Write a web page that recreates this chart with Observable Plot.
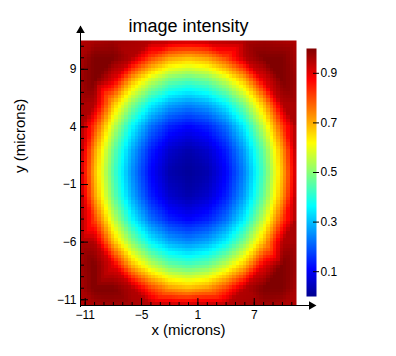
<!DOCTYPE html>
<html><head><meta charset="utf-8">
<script src="https://cdn.jsdelivr.net/npm/d3@7"></script>
<script src="https://cdn.jsdelivr.net/npm/@observablehq/plot@0.6"></script>
<style>
body{margin:0;background:#fff;}
#chart{position:relative;width:396px;height:356px;}
#chart svg{position:absolute;left:0;top:0;}
</style></head><body><div id="chart"></div>
<script>
const gridX = [-11.5, -10, -8, -6, -4, -2, 0, 2, 4, 6, 8, 10, 11.5];
const gridY = [11.5, 10, 8, 6, 4, 2, 0, -2, -4, -6, -8, -10, -11.5];
const intensity = [
  [0.95,0.96,0.97,0.96,0.95,0.94,0.93,0.94,0.95,0.96,0.97,0.96,0.95],
  [0.96,1.00,1.00,0.95,0.81,0.72,0.69,0.72,0.81,0.95,1.00,1.00,0.96],
  [0.97,1.00,0.90,0.69,0.56,0.47,0.44,0.47,0.56,0.69,0.90,1.00,0.97],
  [0.96,0.95,0.69,0.50,0.36,0.28,0.25,0.28,0.36,0.50,0.69,0.95,0.96],
  [0.96,0.81,0.56,0.36,0.22,0.14,0.11,0.14,0.22,0.36,0.56,0.81,0.96],
  [0.95,0.72,0.47,0.28,0.14,0.06,0.03,0.06,0.14,0.28,0.47,0.72,0.95],
  [0.93,0.69,0.44,0.25,0.11,0.03,0.01,0.03,0.11,0.25,0.44,0.69,0.93],
  [0.95,0.72,0.47,0.28,0.14,0.06,0.03,0.06,0.14,0.28,0.47,0.72,0.95],
  [0.96,0.81,0.56,0.36,0.22,0.14,0.11,0.14,0.22,0.36,0.56,0.81,0.96],
  [0.96,0.95,0.69,0.50,0.36,0.28,0.25,0.28,0.36,0.50,0.69,0.95,0.96],
  [0.97,1.00,0.90,0.69,0.56,0.47,0.44,0.47,0.56,0.69,0.90,1.00,0.97],
  [0.96,1.00,1.00,0.95,0.81,0.72,0.69,0.72,0.81,0.95,1.00,1.00,0.96],
  [0.95,0.96,0.97,0.96,0.95,0.94,0.93,0.94,0.95,0.96,0.97,0.96,0.95]
];
const xTicks = [-11, -5, 1, 7];
const yTicks = [-11, -6, -1, 4, 9];
const xMinor = [-11,-10,-9,-8,-7,-6,-5,-4,-3,-2,-1,0,1,2,3,4,5,6,7,8,9,10,11];
const yMinor = [-11,-10,-9,-8,-7,-6,-5,-4,-3,-2,-1,0,1,2,3,4,5,6,7,8,9,10,11];
const colorTicks = [0.1, 0.3, 0.5, 0.7, 0.9];
const jetStops = [0, 0.111, 0.365, 0.619, 0.873, 1];
const jetColors = ["#00008f", "#0000ff", "#00ffff", "#ffff00", "#ff0000", "#800000"];
const titleText = ["image intensity"];
const xLabel = ["x (microns)"];
const yLabel = ["y (microns)"];

const points = intensity.flatMap((row, i) => row.map((v, j) => ({x: gridX[j], y: gridY[i], v})));
const color = {type: "linear", domain: jetStops, range: jetColors, interpolate: "rgb", clamp: true};
const font = "'Liberation Sans', Arial, sans-serif";

const main = Plot.plot({
  width: 396, height: 356,
  marginLeft: 80, marginRight: 100, marginTop: 40, marginBottom: 51,
  style: {fontFamily: font, fontSize: "12px", background: "white", color: "black"},
  x: {domain: [-11.5, 11.5], label: null},
  y: {domain: [-11.5, 11.5], label: null},
  color,
  marks: [
    Plot.raster(points, {x: "x", y: "y", fill: "v", interpolate: "barycentric",
      x1: -11.5, x2: 11.5, y1: -11.5, y2: 11.5, pixelSize: 3.4, imageRendering: "pixelated"}),
    Plot.tickX(xMinor, {x: d => d, insetTop: 262, stroke: "black"}),
    Plot.tickX(xTicks, {x: d => d, insetTop: 258, stroke: "black"}),
    Plot.tickY(yMinor, {y: d => d, insetRight: 212, stroke: "black"}),
    Plot.tickY(yTicks, {y: d => d, insetRight: 208, stroke: "black"}),
    Plot.frame({anchor: "left", insetTop: -14, insetBottom: -1, stroke: "black"}),
    Plot.frame({anchor: "bottom", insetRight: -16, stroke: "black"}),
    Plot.dot([0], {frameAnchor: "top-left", dy: -10, symbol: "triangle", r: 3.2, fill: "black", stroke: null}),
    Plot.dot([0], {frameAnchor: "bottom-right", dx: 15, dy: 0, symbol: "triangle", rotate: 90, r: 3.2, fill: "black", stroke: null}),
    Plot.axisX({ticks: xTicks, tickSize: 0, tickPadding: 5, label: null}),
    Plot.axisY({ticks: yTicks, tickSize: 0, tickPadding: 4, label: null}),
    Plot.text(titleText, {text: d => d, frameAnchor: "top", dy: -21, fontSize: 18}),
    Plot.text(xLabel, {text: d => d, frameAnchor: "bottom", dy: 29, fontSize: 15}),
    Plot.text(yLabel, {text: d => d, frameAnchor: "left", dx: -60, rotate: -90, fontSize: 15})
  ]
});

const bar = Plot.plot({
  width: 396, height: 356,
  marginLeft: 306, marginRight: 80, marginTop: 48, marginBottom: 60,
  style: {fontFamily: font, fontSize: "12px", background: "none", color: "black"},
  x: {domain: [0, 1], axis: null},
  y: {domain: [0, 1], label: null},
  color,
  marks: [
    Plot.raster({fill: (x, y) => y, x1: 0, x2: 1, y1: 0, y2: 1}),
    Plot.tickY(colorTicks, {y: d => d, insetLeft: 7, insetRight: -3, stroke: "black"}),
    Plot.axisY({anchor: "right", ticks: colorTicks, tickSize: 0, tickPadding: 4, label: null})
  ]
});

const el = document.getElementById("chart");
el.appendChild(main);
el.appendChild(bar);
</script></body></html>
